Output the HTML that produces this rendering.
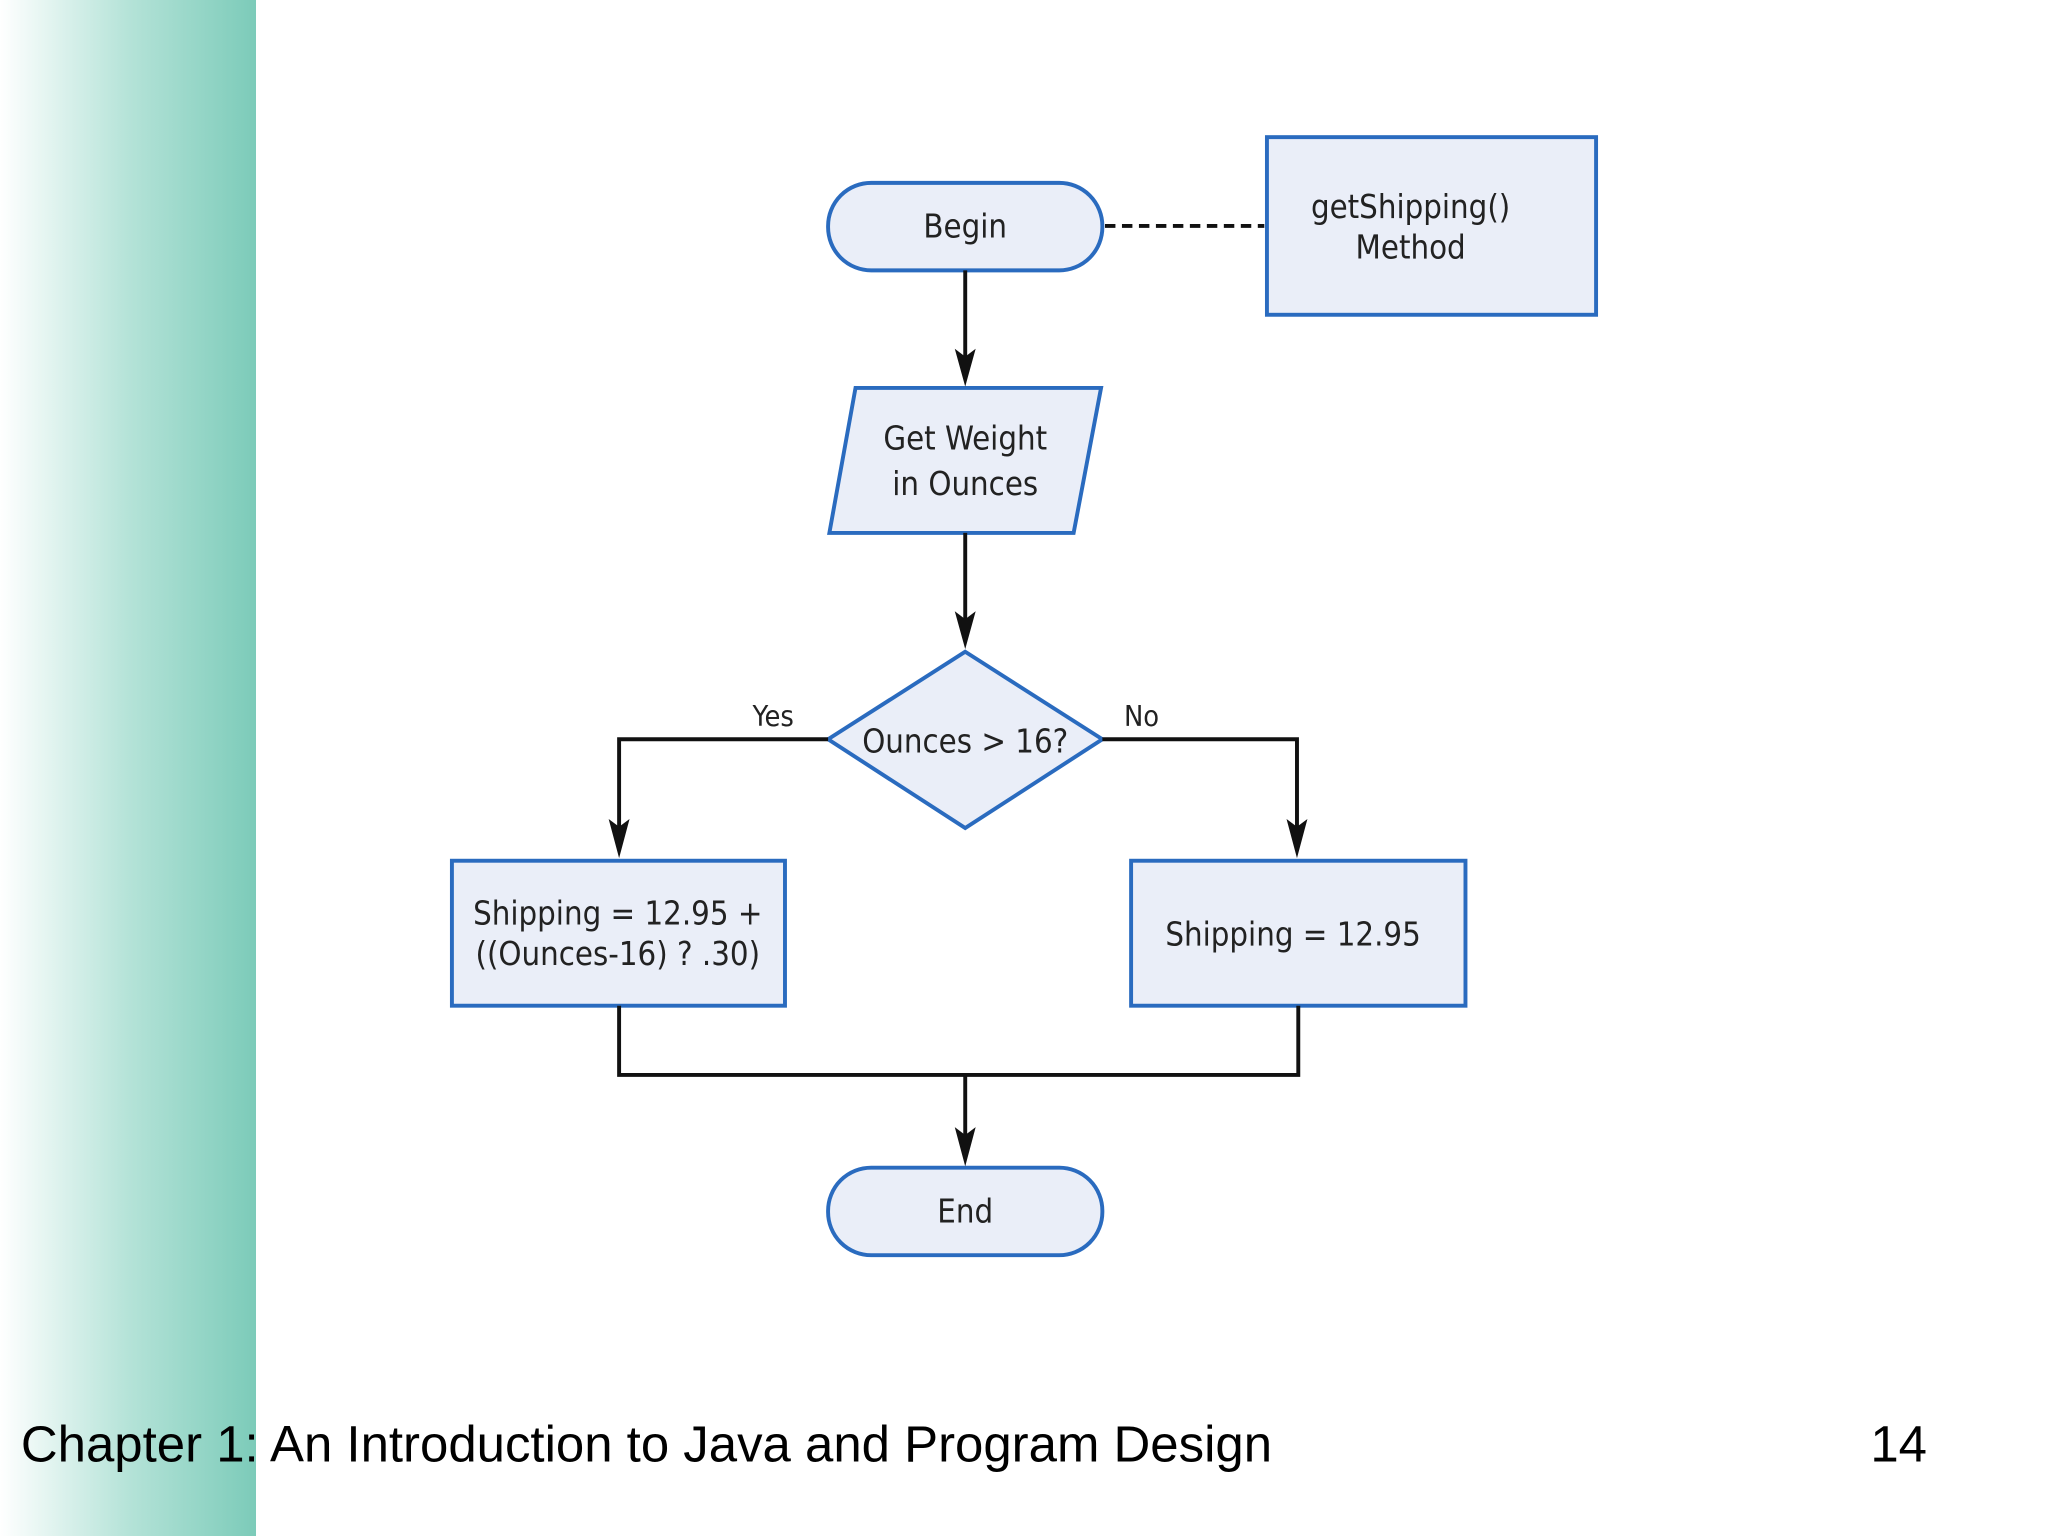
<!DOCTYPE html>
<html><head><meta charset="utf-8"><style>
html,body{margin:0;padding:0;background:#fff;}
svg{display:block;}
text{font-family:"DejaVu Sans Condensed","Liberation Sans",sans-serif;fill:#222;}
</style></head><body>
<svg width="2048" height="1536" viewBox="0 0 1568 1176" xmlns="http://www.w3.org/2000/svg">
<defs>
<linearGradient id="g" x1="0" x2="1" y1="0" y2="0">
<stop offset="0" stop-color="#ffffff"/>
<stop offset="0.5" stop-color="#b5e3d8"/>
<stop offset="1" stop-color="#7ccbb9"/>
</linearGradient>
<marker id="a" markerWidth="12" markerHeight="14" refX="6" refY="14" orient="auto" markerUnits="userSpaceOnUse" viewBox="0 0 12 14">
<path d="M0,0 L6,4 L12,0 L6,14 Z" fill="#111" transform="rotate(0)"/>
</marker>
</defs>
<rect x="0" y="0" width="1568" height="1176" fill="#fff"/>
<rect x="0" y="0" width="196" height="1176" fill="url(#g)"/>
<g fill="#eaeef8" stroke="#2a6bbf" stroke-width="3">
<rect x="634" y="140" width="210" height="67" rx="33"/>
<rect x="970" y="105" width="252" height="136"/>
<polygon points="655,297 843,297 822,408 635,408"/>
<polygon points="739,499 844,566 739,634 634,566"/>
<rect x="346" y="659" width="255" height="111"/>
<rect x="866" y="659" width="256" height="111"/>
<rect x="634" y="894" width="210" height="67" rx="33"/>
</g>
<line x1="846" y1="173" x2="968" y2="173" stroke="#111" stroke-width="3" stroke-dasharray="8,5"/>
<g stroke="#111" stroke-width="3" fill="none">
<path d="M739 207 V 280"/>
<path d="M739 408 V 482"/>
<path d="M634 566 H 474 V 642"/>
<path d="M844 566 H 993 V 642"/>
<path d="M474 770 V 823 H 994 V 770"/>
<path d="M739 823 V 878"/>
</g>
<g fill="#111">
<path d="M731 267 L739 273 L747 267 L739 296 Z"/>
<path d="M731 468 L739 474 L747 468 L739 497 Z"/>
<path d="M466 627 L474 633 L482 627 L474 657 Z"/>
<path d="M985 627 L993 633 L1001 627 L993 657 Z"/>
<path d="M731 863 L739 869 L747 863 L739 893 Z"/>
</g>
<g font-size="25" text-anchor="middle">
<text x="739" y="182">Begin</text>
<text x="1080" y="167">getShipping()</text>
<text x="1080" y="198">Method</text>
<text x="739" y="344">Get Weight</text>
<text x="739" y="379">in Ounces</text>
<text x="739" y="576">Ounces &gt; 16?</text>
<text x="592" y="556" font-size="22">Yes</text>
<text x="874" y="556" font-size="22">No</text>
<text x="473" y="708">Shipping = 12.95 +</text>
<text x="473" y="739">((Ounces-16) ? .30)</text>
<text x="990" y="724">Shipping = 12.95</text>
<text x="739" y="936">End</text>
</g>
<text x="16" y="1119" font-size="39" style="font-family:'Liberation Sans',sans-serif;fill:#000">Chapter 1: An Introduction to Java and Program Design</text>
<text x="1432" y="1119" font-size="39" style="font-family:'Liberation Sans',sans-serif;fill:#000">14</text>
</svg>
</body></html>
